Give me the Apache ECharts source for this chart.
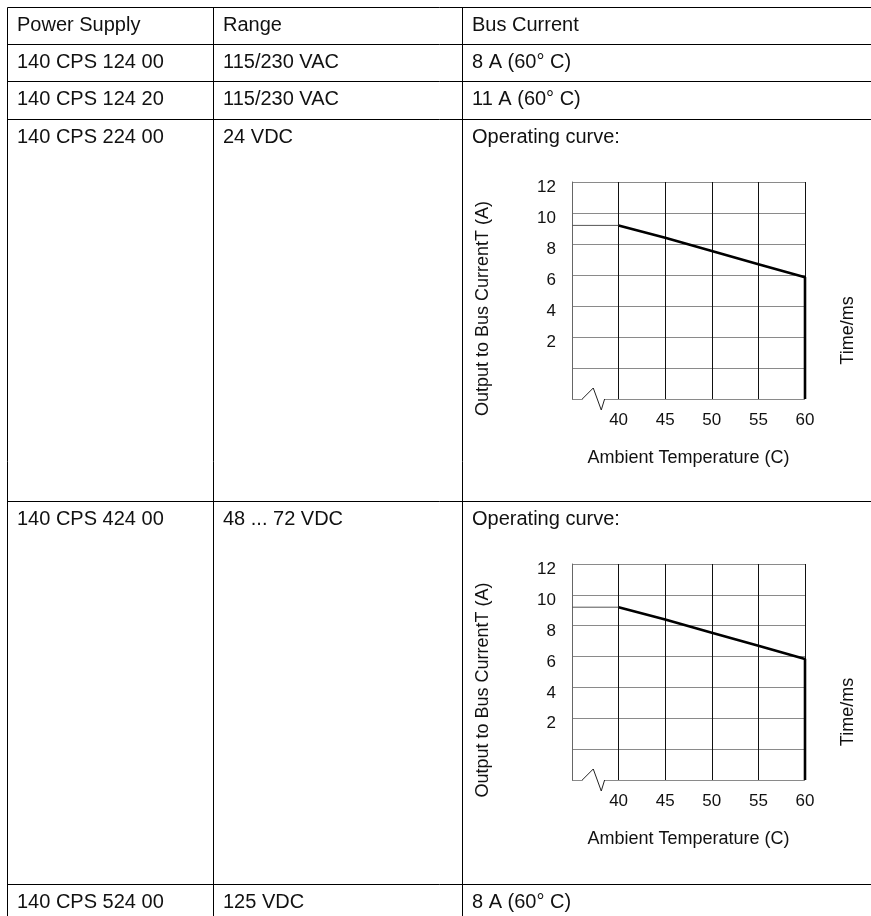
<!DOCTYPE html>
<html>
<head>
<meta charset="utf-8">
<script src="https://cdn.jsdelivr.net/npm/echarts@6/dist/echarts.min.js"></script>
<style>
html,body{margin:0;padding:0;background:#fff;}
#main{width:871px;height:916px;}
</style>
</head>
<body>
<div id="main"></div>
<script>
// ---- table data ----
const headers = ['Power Supply', 'Range', 'Bus Current'];
const supplies = ['140 CPS 124 00', '140 CPS 124 20', '140 CPS 224 00', '140 CPS 424 00', '140 CPS 524 00'];
const ranges = ['115/230 VAC', '115/230 VAC', '24 VDC', '48 ... 72 VDC', '125 VDC'];
const busCurrent = ['8 A (60° C)', '11 A (60° C)', 'Operating curve:', 'Operating curve:', '8 A (60° C)'];

// ---- operating curve data (same curve in both embedded charts) ----
const tempC = [40, 45, 50, 55, 60];
const currentA = [9.2, 8.4, 7.55, 6.7, 5.85];
const xTickValues = [40, 45, 50, 55, 60];
const yTickValues = [2, 4, 6, 8, 10, 12];

const X_MIN = 35, X_MAX = 60, Y_MIN = -2, Y_MAX = 12;

// ---- layout ----
const FONT = '"Liberation Sans", Arial, sans-serif';
const colX = [7.5, 213.5, 462.5];
const rowY = [7.5, 44.5, 81.5, 119.5, 501.5, 884.5];
const gridTops = [182, 564];
const gridHeights = [217, 216];

const chart = echarts.init(document.getElementById('main'), null, {renderer: 'canvas'});

const graphic = [];
// horizontal table lines
rowY.forEach(y => graphic.push({type: 'line', shape: {x1: colX[0], y1: y, x2: 871, y2: y}, style: {stroke: '#000', lineWidth: 1}, silent: true}));
// vertical table lines
colX.forEach(x => graphic.push({type: 'line', shape: {x1: x, y1: rowY[0], x2: x, y2: 916}, style: {stroke: '#000', lineWidth: 1}, silent: true}));
// table texts
const allRows = [headers].concat(supplies.map((s, i) => [s, ranges[i], busCurrent[i]]));
allRows.forEach((row, r) => {
  row.forEach((txt, c) => {
    graphic.push({
      type: 'text', silent: true,
      x: colX[c] + 9.5, y: rowY[r] + 17.5,
      style: {text: txt, font: '20px ' + FONT, fill: '#111', textAlign: 'left', textVerticalAlign: 'middle'}
    });
  });
});

const grids = [], xAxes = [], yAxes = [], series = [];
gridTops.forEach((top, g) => {
  grids.push({left: 572, top: top, width: 233, height: gridHeights[g], show: false, containLabel: false});
  xAxes.push({
    type: 'value', gridIndex: g, min: X_MIN, max: X_MAX, interval: 5,
    axisLine: {show: false}, axisTick: {show: false},
    axisLabel: {
      margin: 13, color: '#111', fontSize: 17, fontFamily: FONT,
      formatter: v => (xTickValues.indexOf(v) >= 0 ? String(v) : '')
    },
    splitLine: {show: true, showMinLine: false, lineStyle: {color: '#111', width: 1}},
    name: 'Ambient Temperature (C)', nameLocation: 'middle', nameGap: 50,
    nameTextStyle: {color: '#111', fontSize: 18, fontFamily: FONT}
  });
  yAxes.push({
    type: 'value', gridIndex: g, min: Y_MIN, max: Y_MAX, interval: 2,
    axisLine: {show: true, lineStyle: {color: '#666', width: 1}}, axisTick: {show: false},
    axisLabel: {
      margin: 16, color: '#111', fontSize: 17, fontFamily: FONT,
      verticalAlign: 'top', lineHeight: 11,
      formatter: v => (yTickValues.indexOf(v) >= 0 ? String(v) : '')
    },
    splitLine: {show: true, lineStyle: {color: '#8a8a8a', width: 1}},
    name: 'Output to Bus CurrentT (A)', nameLocation: 'middle', nameGap: 80,
    nameTextStyle: {color: '#111', fontSize: 18, fontFamily: FONT, padding: [0, 36, 0, 0]}
  });
  yAxes.push({
    type: 'value', gridIndex: g, position: 'right', min: Y_MIN, max: Y_MAX,
    axisLine: {show: false}, axisTick: {show: false}, axisLabel: {show: false}, splitLine: {show: false},
    name: 'Time/ms', nameLocation: 'middle', nameGap: 34,
    nameTextStyle: {color: '#111', fontSize: 18, fontFamily: FONT, padding: [0, 80, 0, 0]}
  });

  const curve = tempC.map((t, i) => [t, currentA[i]]);
  curve.push([tempC[tempC.length - 1], Y_MIN]);
  series.push({
    type: 'line', xAxisIndex: g, yAxisIndex: g * 2, data: curve,
    showSymbol: false, symbol: 'none', silent: true, z: 4,
    lineStyle: {color: '#000', width: 2.6}
  });
  series.push({
    type: 'line', xAxisIndex: g, yAxisIndex: g * 2,
    data: [[X_MIN, currentA[0]], [tempC[0], currentA[0]]],
    showSymbol: false, symbol: 'none', silent: true, z: 3,
    lineStyle: {color: '#555', width: 1}
  });
  // axis break mark on the bottom line
  series.push({
    type: 'custom', xAxisIndex: g, yAxisIndex: g * 2, clip: false, silent: true, z: 5,
    data: [[36.1, 38.5]],
    renderItem: function (params, api) {
      const p0 = api.coord([api.value(0), Y_MIN]);
      const p1 = api.coord([api.value(1), Y_MIN]);
      return {
        type: 'group',
        children: [
          {type: 'rect', shape: {x: p0[0] + 0.5, y: p0[1] - 2, width: p1[0] - p0[0] - 1, height: 4}, style: {fill: '#fff'}},
          {type: 'polyline', shape: {points: [p0, [p0[0] + 11, p0[1] - 11], [p0[0] + 19, p0[1] + 11], p1]},
           style: {stroke: '#222', lineWidth: 1, fill: null}}
        ]
      };
    }
  });
});

chart.setOption({
  backgroundColor: '#fff',
  animation: false,
  grid: grids,
  xAxis: xAxes,
  yAxis: yAxes,
  series: series,
  graphic: graphic
});
</script>
</body>
</html>
